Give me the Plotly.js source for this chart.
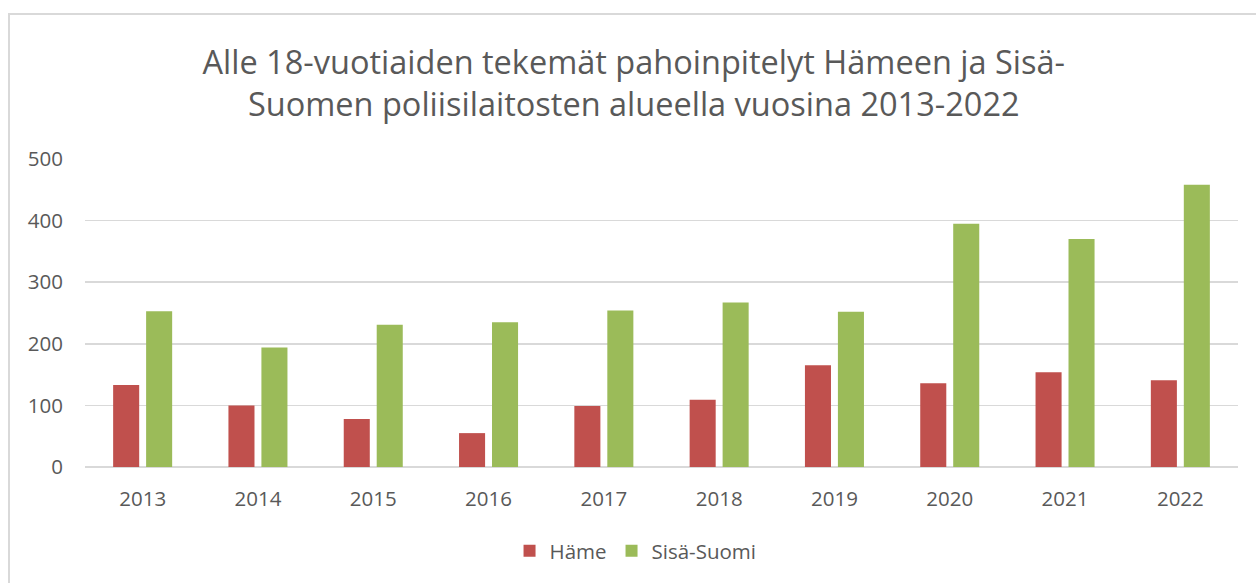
<!DOCTYPE html>
<html>
<head>
<meta charset="utf-8">
<script src="https://cdn.plot.ly/plotly-3.0.1.min.js"></script>
<style>
  html, body { margin: 0; padding: 0; background: #fff; }
  #wrap { position: relative; width: 1256px; height: 583px; overflow: hidden; }
  #frame { position: absolute; left: 8px; top: 13px; width: 1300px; height: 700px;
           border-top: 2px solid #D9D9D9; border-left: 2px solid #D9D9D9; pointer-events: none; }
  #chart { position: absolute; left: 0; top: 0; width: 1256px; height: 583px; }
</style>
</head>
<body>
<div id="wrap">
  <div id="chart"></div>
  <div id="frame"></div>
</div>
<script>
const years = ['2013','2014','2015','2016','2017','2018','2019','2020','2021','2022'];
const hame = [133, 100, 78, 55, 99, 109, 165, 136, 154, 141];
const sisaSuomi = [253, 194, 231, 235, 254, 267, 252, 395, 370, 458];
const seriesNames = ['Häme', 'Sisä-Suomi'];
const titleText = 'Alle 18-vuotiaiden tekemät pahoinpitelyt Hämeen ja Sisä-<br>Suomen poliisilaitosten alueella vuosina 2013-2022';

const fontFam = '"Open Sans", "Noto Sans", sans-serif';
const grey = '#595959';

const traces = [
  { type: 'bar', name: seriesNames[0], x: years, y: hame,
    marker: { color: '#C0504D' }, hoverinfo: 'x+y' },
  { type: 'bar', name: seriesNames[1], x: years, y: sisaSuomi,
    marker: { color: '#9BBB59' }, hoverinfo: 'x+y' }
];

const layout = {
  width: 1256, height: 583,
  paper_bgcolor: 'rgba(0,0,0,0)', plot_bgcolor: 'rgba(0,0,0,0)',
  margin: { l: 85, r: 18, t: 159, b: 116 },
  font: { family: fontFam, color: grey },
  title: {
    text: titleText,
    font: { family: fontFam, size: 32.5, color: grey },
    x: 0.5046, xref: 'container', xanchor: 'center',
    y: 1 - 74/583, yref: 'container', yanchor: 'middle'
  },
  barmode: 'group',
  bargap: 0.428,
  bargroupgap: 0.21,
  xaxis: {
    type: 'category',
    tickfont: { size: 20.5, color: grey, family: fontFam },
    showgrid: false, zeroline: false, showline: false,
    ticks: '', ticklabelstandoff: 17
  },
  yaxis: {
    range: [0, 500], dtick: 100, tick0: 0,
    tickfont: { size: 20.5, color: grey, family: fontFam },
    gridcolor: '#D9D9D9', gridwidth: 1.5,
    zeroline: true, zerolinecolor: '#D9D9D9', zerolinewidth: 1.5,
    showline: false, ticks: '', ticklabelstandoff: 21
  },
  showlegend: true,
  legend: {
    orientation: 'h',
    x: 0.506, xref: 'container', xanchor: 'center',
    y: 1 - 551/583, yref: 'container', yanchor: 'middle',
    font: { size: 20.5, color: grey, family: fontFam },
    itemwidth: 30, traceorder: 'normal'
  }
};

Plotly.newPlot('chart', traces, layout, { displayModeBar: false, staticPlot: true });
</script>
</body>
</html>
